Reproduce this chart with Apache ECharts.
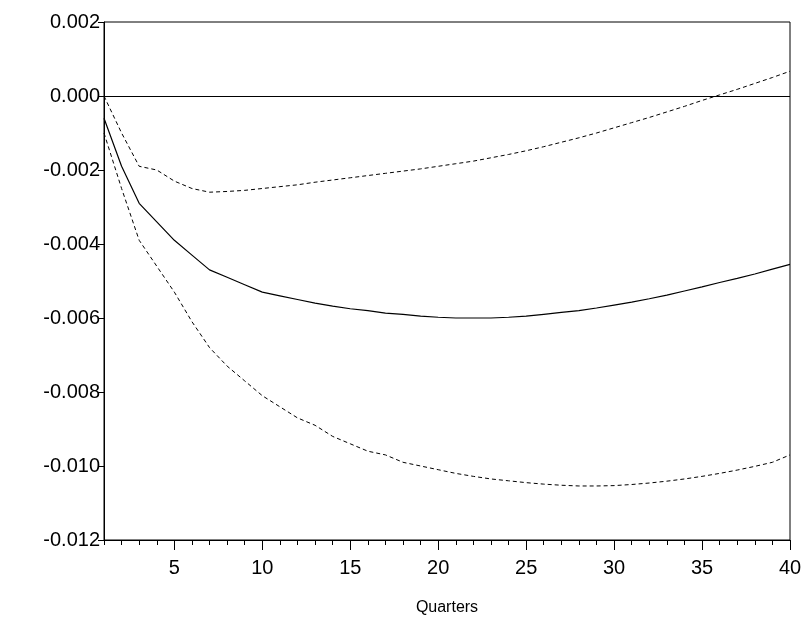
<!DOCTYPE html>
<html>
<head>
<meta charset="UTF-8">
<style>
* { margin: 0; padding: 0; }
html, body { width: 100%; height: 100%; background: #fff; overflow: hidden; }
#chart { width: 811px; height: 628px; }
</style>
</head>
<body>
<div id="chart"></div>
<script src="https://cdn.jsdelivr.net/npm/echarts@6/dist/echarts.min.js"></script>
<script>
var quarters = [];
for (var q = 1; q <= 40; q++) quarters.push(q);

// impulse response
var response = [-0.0006, -0.0019, -0.0029, -0.0034, -0.0039, -0.0043, -0.0047, -0.0049, -0.0051, -0.0053,
	-0.0054, -0.0055, -0.0056, -0.00568, -0.00575, -0.0058, -0.00587, -0.0059, -0.00595, -0.00598,
	-0.006, -0.006, -0.006, -0.00598, -0.00595, -0.0059, -0.00585, -0.0058, -0.00573, -0.00565,
	-0.00557, -0.00548, -0.00538, -0.00527, -0.00516, -0.00504, -0.00493, -0.00481, -0.00468, -0.00455];
var upper = [0.0, -0.0010, -0.0019, -0.0020, -0.0023, -0.0025, -0.0026, -0.00258, -0.00255, -0.0025,
	-0.00245, -0.0024, -0.00233, -0.00227, -0.00221, -0.00215, -0.00209, -0.00203, -0.00197, -0.0019,
	-0.00183, -0.00176, -0.00167, -0.00158, -0.00148, -0.00137, -0.00125, -0.00113, -0.001, -0.00086,
	-0.00072, -0.00058, -0.00043, -0.00028, -0.00012, 0.00003, 0.00018, 0.00034, 0.0005, 0.00067];
var lower = [-0.001, -0.0025, -0.0039, -0.0046, -0.0053, -0.0061, -0.0068, -0.0073, -0.0077, -0.0081,
	-0.0084, -0.0087, -0.0089, -0.0092, -0.0094, -0.0096, -0.0097, -0.0099, -0.01, -0.0101,
	-0.0102, -0.01028, -0.01035, -0.0104, -0.01045, -0.01049, -0.01052, -0.01054, -0.01054, -0.01053,
	-0.0105, -0.01046, -0.01041, -0.01035, -0.01028, -0.0102, -0.01011, -0.01001, -0.0099, -0.0097];
var labelTicks = [5, 10, 15, 20, 25, 30, 35, 40];

function pairs(arr) {
	return arr.map(function (v, i) { return [quarters[i], v]; });
}

var chart = echarts.init(document.getElementById('chart'));
var font = 'Arial, "Liberation Sans", sans-serif';
chart.setOption({
	animation: false,
	grid: { left: 104, right: 21, top: 22, bottom: 88 },
	xAxis: [{
		type: 'value', min: 1, max: 40, interval: 1,
		axisLine: { onZero: false, lineStyle: { color: '#000' } },
		axisTick: { length: 5, lineStyle: { color: '#000' } },
		axisLabel: { show: false },
		splitLine: { show: false }
	}, {
		type: 'value', min: 1, max: 40, position: 'bottom',
		name: 'Quarters', nameLocation: 'middle', nameGap: 60,
		nameTextStyle: { fontFamily: font, fontSize: 16, color: '#000' },
		axisLine: { show: false, onZero: false },
		axisTick: { customValues: labelTicks, length: 10, lineStyle: { color: '#000' } },
		axisLabel: { customValues: labelTicks, fontFamily: font, fontSize: 20, color: '#000', margin: 18 },
		splitLine: { show: false }
	}],
	yAxis: {
		type: 'value', min: -0.012, max: 0.002, interval: 0.002,
		axisLine: { show: true, lineStyle: { color: '#000' } },
		axisTick: { show: true, length: 6, lineStyle: { color: '#000' } },
		axisLabel: { fontFamily: font, fontSize: 20, color: '#000', margin: 4,
			formatter: function (v) { return v.toFixed(3); } },
		splitLine: { show: false }
	},
	series: [{
		type: 'line', data: pairs(response), symbol: 'none',
		lineStyle: { color: '#000', width: 1.2 },
		markLine: { silent: true, symbol: 'none', label: { show: false },
			lineStyle: { color: '#000', width: 1, type: 'solid' }, data: [{ yAxis: 0 }] }
	}, {
		type: 'line', data: pairs(upper), symbol: 'none',
		lineStyle: { color: '#000', width: 1, type: [4, 3] }
	}, {
		type: 'line', data: pairs(lower), symbol: 'none',
		lineStyle: { color: '#000', width: 1, type: [4, 3] }
	}],
	graphic: [{ type: 'rect', shape: { x: 104, y: 22, width: 686, height: 518 },
		style: { fill: 'none', stroke: '#000', lineWidth: 1 }, silent: true }]
});
</script>
</body>
</html>
